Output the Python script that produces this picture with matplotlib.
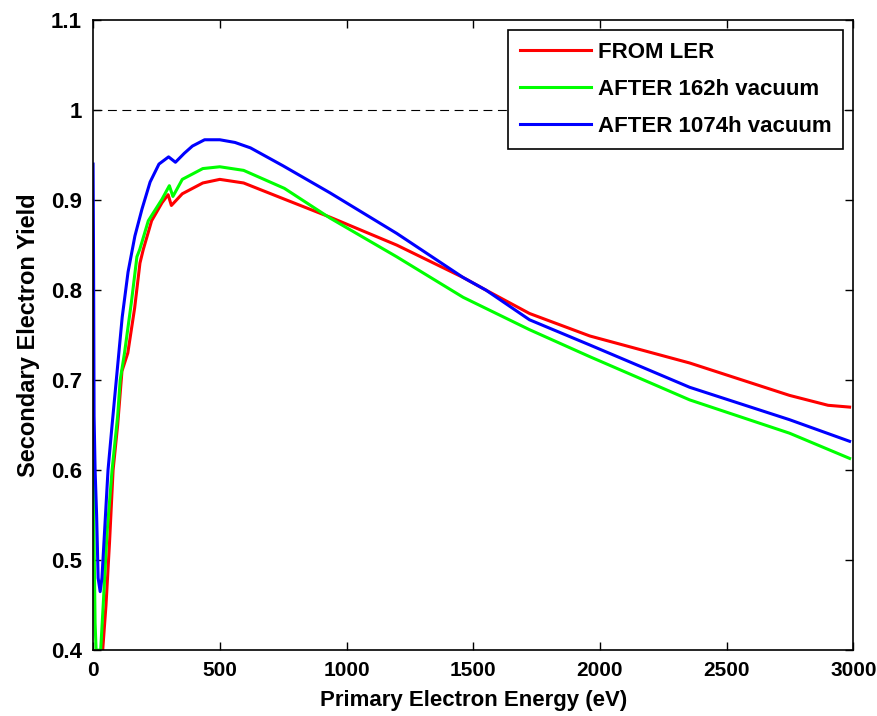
import numpy as np
import matplotlib
matplotlib.use("Agg")
import matplotlib.pyplot as plt

plt.rcParams['font.family'] = ['Liberation Sans', 'DejaVu Sans']
plt.rcParams['font.weight'] = 'bold'

# FROM LER
ler_x = [38, 51, 65, 79, 97, 114, 137, 164, 185, 198, 231, 272, 296, 309, 352, 433, 500,
         594, 755, 935, 1198, 1460, 1550, 1722, 1960, 2354, 2748, 2900, 2985]
ler_y = [0.40, 0.45, 0.52, 0.60, 0.65, 0.71, 0.73, 0.78, 0.83, 0.845, 0.877, 0.897, 0.906,
         0.894, 0.907, 0.919, 0.923, 0.919, 0.901, 0.881, 0.850, 0.814, 0.800, 0.774,
         0.749, 0.719, 0.683, 0.672, 0.670]

# AFTER 162h vacuum
v162_x = [0, 4, 8, 12, 30, 40, 55, 75, 97, 107, 124, 151, 173, 184, 218, 272, 301, 315,
          352, 433, 500, 594, 755, 935, 1198, 1460, 1722, 1960, 2354, 2748, 2985]
v162_y = [0.61, 0.52, 0.43, 0.40, 0.40, 0.45, 0.53, 0.60, 0.66, 0.70, 0.73, 0.786, 0.837,
          0.845, 0.877, 0.901, 0.916, 0.904, 0.923, 0.935, 0.937, 0.933, 0.913, 0.880,
          0.837, 0.792, 0.756, 0.726, 0.678, 0.641, 0.613]

# AFTER 1074h vacuum
v1074_x = [0, 2, 4, 8, 14, 20, 28, 35, 45, 59, 75, 95, 115, 138, 165, 193, 225, 260, 298,
           325, 360, 392, 440, 500, 560, 621, 750, 935, 1198, 1460, 1550, 1722, 1960,
           2354, 2748, 2985]
v1074_y = [0.94, 0.83, 0.66, 0.60, 0.55, 0.48, 0.465, 0.48, 0.53, 0.60, 0.65, 0.71, 0.77,
           0.82, 0.86, 0.89, 0.92, 0.94, 0.948, 0.942, 0.952, 0.960, 0.967, 0.967, 0.964,
           0.958, 0.938, 0.908, 0.863, 0.814, 0.800, 0.767, 0.739, 0.692, 0.656, 0.632]

fig = plt.figure(figsize=(8.78, 7.16), dpi=100)
ax = fig.add_axes([0.106, 0.092, 0.866, 0.88])

ax.axhline(1.0, color='black', linestyle=(0, (8, 5)), linewidth=0.8)
ax.plot(ler_x, ler_y, color='#ff0000', linewidth=2.2, label='FROM LER')
ax.plot(v162_x, v162_y, color='#00ff00', linewidth=2.2, label='AFTER 162h vacuum')
ax.plot(v1074_x, v1074_y, color='#0000ff', linewidth=2.2, label='AFTER 1074h vacuum')

ax.set_xlim(0, 3000)
ax.set_ylim(0.4, 1.1)
ax.set_xticks(np.arange(0, 3001, 500))
ax.set_yticks([0.4, 0.5, 0.6, 0.7, 0.8, 0.9, 1.0, 1.1])
ax.set_yticklabels(['0.4', '0.5', '0.6', '0.7', '0.8', '0.9', '1', '1.1'], fontsize=16)
ax.tick_params(direction='in', top=True, right=True, length=6, width=1)
ax.tick_params(axis='y', pad=8)
ax.tick_params(axis='x', pad=8, labelsize=15)
for s in ax.spines.values():
    s.set_linewidth(1.2)

ax.set_xlabel('Primary Electron Energy (eV)', fontsize=16, fontweight='bold', labelpad=7)
ax.set_ylabel('Secondary Electron Yield', fontsize=17, fontweight='bold', labelpad=8)

leg = ax.legend(loc='upper right', fontsize=16, fancybox=False, framealpha=1,
                edgecolor='black', handlelength=3.2, handletextpad=0.3,
                labelspacing=0.72, borderpad=0.55, borderaxespad=0.45)
leg.get_frame().set_linewidth(1.2)

plt.savefig('out.png', dpi=100)
